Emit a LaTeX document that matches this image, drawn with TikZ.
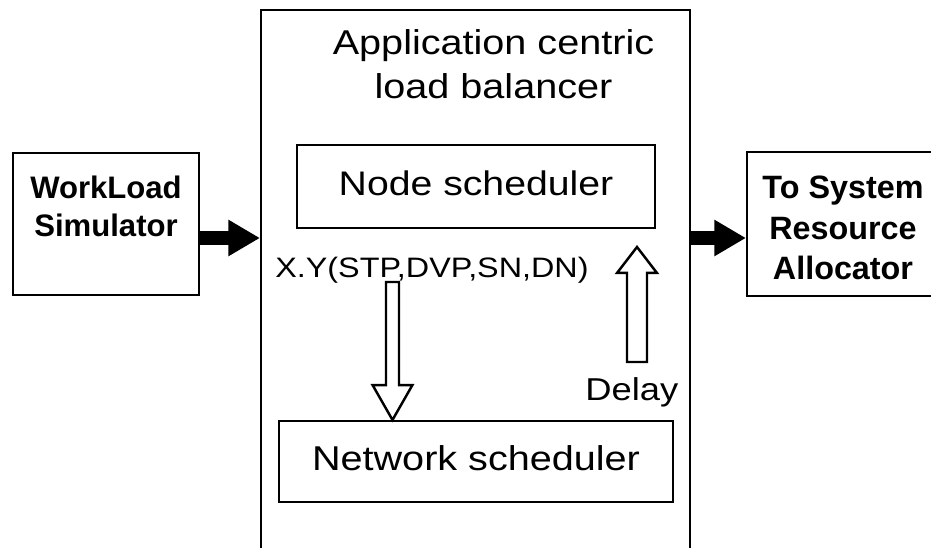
\documentclass[tikz,border=0pt]{standalone}
\usepackage{fontspec}
\setmainfont{Liberation Sans}
\newfontfamily\widefont[FakeStretch=1.15]{Liberation Sans}
\usetikzlibrary{arrows.meta,calc}
\tikzset{
  box/.style={draw, line width=1.2pt, inner sep=0pt},
  boldtxt/.style={font=\bfseries\fontsize{18}{23}\selectfont, align=center, inner sep=0pt},
  widetxt/.style={inner sep=0pt, align=center},
  fat/.style={line width=7.9pt, -{Triangle[length=18pt,width=19.5pt]}},
  hollow/.style={draw, line width=1.4pt, line join=miter},
}
\newcommand\blockarrow[5]{%
  \draw[hollow] let \p1=(#1), \p2=(#2) in
    ({\x1-#3},{\y1}) -- ({\x1-#3},{\y2+#5}) -- ({\x1-#4},{\y2+#5}) -- ({\x1},{\y2})
    -- ({\x1+#4},{\y2+#5}) -- ({\x1+#3},{\y2+#5}) -- ({\x1+#3},{\y1}) -- cycle;}
\begin{document}
\begin{tikzpicture}[x=0.02cm,y=-0.02cm]
\useasboundingbox (0,0) rectangle (931,548);
\clip (0,0) rectangle (931,548);
% boxes
\node[box, minimum width=3.72cm, minimum height=2.84cm] (wl) at (106,224) {};
\node[boldtxt, font=\bfseries\fontsize{17.7}{21.5}\selectfont] (wlt) at (106,206) {WorkLoad\\Simulator};
\node[box, minimum width=8.58cm, minimum height=11cm] (lb) at (475.5,285) {};
\node[widetxt, font=\widefont\fontsize{19.6}{25}\selectfont] (title) at (493.5,64) {Application centric\\load balancer};
\node[box, minimum width=7.16cm, minimum height=1.66cm, font=\widefont\fontsize{19.4}{22}\selectfont] (nsch) at (476,186.5) {\raisebox{0.14cm}{Node scheduler}};
\node[box, minimum width=7.88cm, minimum height=1.62cm, font=\widefont\fontsize{19.6}{22}\selectfont] (ns) at (476,461.5) {\raisebox{0.14cm}{Network scheduler}};
\node[box, minimum width=3.96cm, minimum height=2.88cm] (rb) at (846,224) {};
\node[boldtxt, font=\bfseries\fontsize{18.4}{23.2}\selectfont] (rbt) at (843,228) {To System\\Resource\\Allocator};
% labels
\node[widetxt, anchor=base west, font=\widefont\fontsize{16}{18}\selectfont] (xy) at (275,277) {X.Y(STP,DVP,SN,DN)};
\node[widetxt, anchor=base west, font=\widefont\fontsize{18}{20}\selectfont] (delay) at (585,400) {Delay};
% fat arrows
\draw[fat] ([yshift=-0.28cm]wl.east) coordinate (a1) -- (a1 -| lb.west);
\coordinate (a2) at ([yshift=-0.28cm]rb.west);
\draw[fat] (a2 -| lb.east) -- (a2);
% hollow arrows
\coordinate (d1) at (392.5,282);
\coordinate (d2) at (d1 |- ns.north);
\blockarrow{d1}{d2}{3.7pt}{11.3pt}{19.8pt}
\coordinate (u1) at (637,362);
\coordinate (u2) at (637,247);
\blockarrow{u1}{u2}{5.7pt}{11.3pt}{-14.7pt}
\end{tikzpicture}
\end{document}
